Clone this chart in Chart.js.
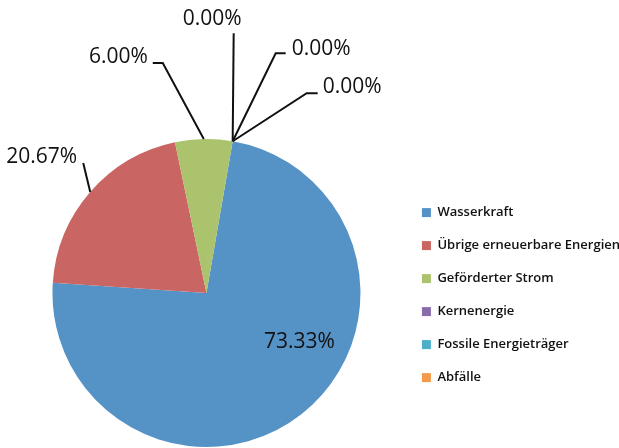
<!DOCTYPE html>
<html>
<head>
<meta charset="utf-8">
<script src="https://cdn.jsdelivr.net/npm/chart.js@4"></script>
<style>
html,body{margin:0;padding:0;background:#fff;}
#wrap{width:619px;height:448px;position:relative;}
</style>
</head>
<body>
<div id="wrap"><canvas id="c" width="619" height="448"></canvas></div>
<script>
const categories = ["Wasserkraft", "Übrige erneuerbare Energien", "Geförderter Strom", "Kernenergie", "Fossile Energieträger", "Abfälle"];
const shares = [73.33, 20.67, 6.00, 0, 0, 0];
const sliceColors = ["#5592C6", "#C96664", "#AAC36C", "#8A6CAB", "#4DAFCA", "#F49A4C"];

// label placement relative to slice anchor (outer edge at mid-angle), or centre for inside labels
const labelLayout = [
  {inside: true, tx: 93, ty: 55, align: "center"},
  {path: [[-7, -29]], tx: -13, ty: -29, align: "right"},
  {path: [[-41, -76], [-51, -76]], tx: -56, ty: -76, align: "right"},
  {path: [[1, -108]], tx: -20.5, ty: -116, align: "center"},
  {path: [[43, -88], [53, -88]], tx: 59, ty: -86, align: "left"},
  {path: [[74, -48], [85, -48]], tx: 90, ty: -48, align: "left"}
];

const pieLabels = {
  id: "pieLabels",
  afterDatasetsDraw(chart) {
    const ctx = chart.ctx;
    const meta = chart.getDatasetMeta(0);
    const vals = chart.data.datasets[0].data;
    const total = vals.reduce((a, b) => a + b, 0);
    ctx.save();
    ctx.font = "21px 'Open Sans'";
    ctx.textBaseline = "alphabetic";
    ctx.fillStyle = "#111";
    ctx.strokeStyle = "#111";
    ctx.lineWidth = 2;
    meta.data.forEach((arc, i) => {
      const p = arc.getProps(["x", "y", "startAngle", "endAngle", "outerRadius"], true);
      const mid = (p.startAngle + p.endAngle) / 2;
      const ax = p.x + Math.cos(mid) * p.outerRadius;
      const ay = p.y + Math.sin(mid) * p.outerRadius;
      const L = labelLayout[i];
      const txt = (vals[i] / total * 100).toFixed(2) + "%";
      let bx, by;
      if (L.inside) { bx = p.x; by = p.y; }
      else {
        bx = ax; by = ay;
        ctx.beginPath();
        ctx.moveTo(ax, ay);
        L.path.forEach(pt => ctx.lineTo(ax + pt[0], ay + pt[1]));
        ctx.stroke();
      }
      ctx.textAlign = L.align;
      ctx.fillText(txt, bx + L.tx, by + L.ty);
    });
    ctx.restore();
  }
};

new Chart(document.getElementById("c"), {
  type: "pie",
  data: {
    labels: categories,
    datasets: [{
      data: shares,
      backgroundColor: sliceColors,
      borderWidth: 0
    }]
  },
  options: {
    responsive: false,
    animation: false,
    events: [],
    rotation: 9.8,
    layout: {padding: {top: 139, bottom: 1, left: 11, right: -11}},
    plugins: {
      tooltip: {enabled: false},
      legend: {
        position: "right",
        align: "center",
        title: {display: true, text: " ", font: {size: 1}, padding: {top: 3, bottom: 0}},
        labels: {
          boxWidth: 9,
          boxHeight: 9,
          padding: 20,
          color: "#111",
          font: {family: "'Open Sans'", size: 13, weight: "600"}
        }
      }
    }
  },
  plugins: [pieLabels]
});
</script>
</body>
</html>
